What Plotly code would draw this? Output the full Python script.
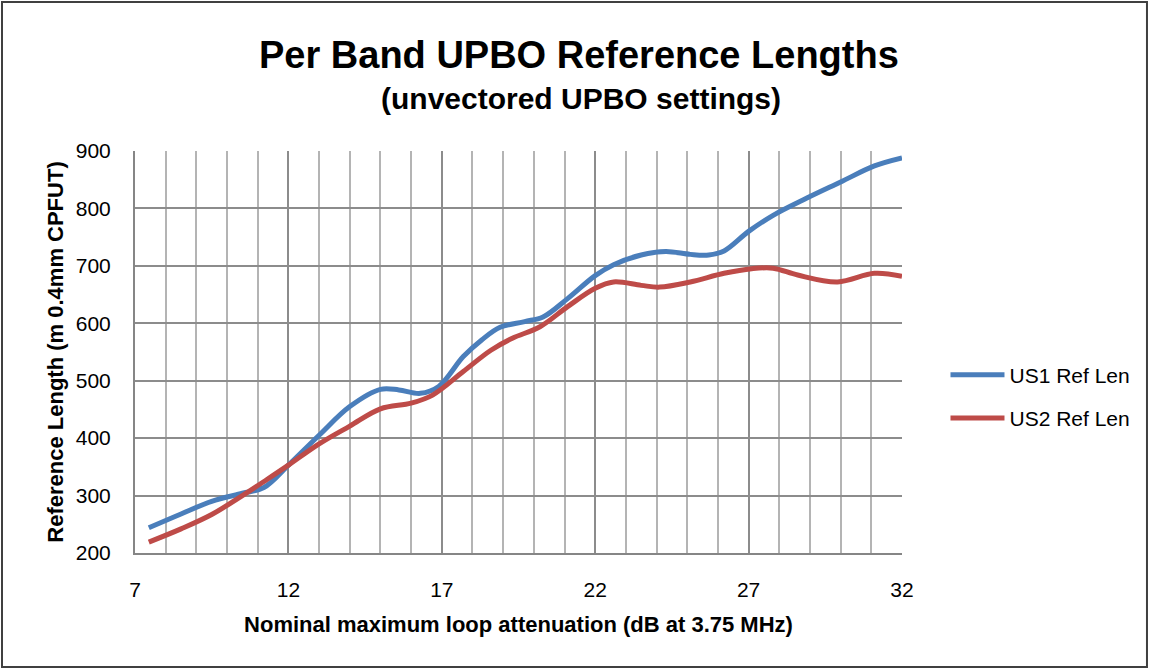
import plotly.graph_objects as go

# Data
us1_x = [7.45, 8.5, 9.5, 10.5, 11.2, 12, 13, 14, 15, 15.6, 16.3, 16.9, 17.7, 18.3, 18.9,
         19.7, 20.3, 21.1, 22, 22.6, 23.5, 24.3, 25.1, 25.7, 26.2, 27, 27.8, 28.9, 30, 31.1, 32]
us1_y = [244, 268, 290, 304, 314, 353, 405, 455, 485, 484, 478, 490, 542, 571, 593,
         603, 611, 643, 683, 702, 719, 725, 720, 719, 726, 760, 788, 818, 846, 874, 888]

us2_x = [7.45, 8.5, 9.5, 10.5, 11.3, 12, 13, 14, 15, 16, 16.7, 17.7, 18.6, 19.3, 20.2,
         21.1, 22, 22.6, 23.5, 24.1, 25.1, 26.2, 27.1, 27.8, 28.6, 29.9, 31.1, 32]
us2_y = [219, 242, 267, 300, 328, 353, 390, 421, 451, 461, 475, 516, 553, 574, 594,
         629, 661, 672, 666, 663, 672, 687, 695, 696, 684, 672, 687, 682]

series_names = ["US1 Ref Len", "US2 Ref Len"]
series_colors = ["#4A7EBB", "#BE4B48"]

x_ticks = [7, 12, 17, 22, 27, 32]
y_ticks = [200, 300, 400, 500, 600, 700, 800, 900]

FONT = "Liberation Sans, Arial, sans-serif"

fig = go.Figure()
for i, (xs, ys, name, col) in enumerate([(us1_x, us1_y, series_names[0], series_colors[0]),
                                         (us2_x, us2_y, series_names[1], series_colors[1])]):
    fig.add_trace(go.Scatter(x=xs, y=ys, mode="lines", name=name, legendgroup=f"g{i}",
                             line=dict(color=col, width=5, shape="spline", smoothing=1.0)))

fig.update_layout(
    width=1150, height=670,
    paper_bgcolor="white", plot_bgcolor="white",
    margin=dict(l=135, r=248, t=151, b=117),
    font=dict(family=FONT, color="black", size=21),
    showlegend=True,
    legend=dict(x=1.0567, y=0.389, xanchor="left", yanchor="middle",
                font=dict(size=21, family=FONT), itemwidth=54,
                tracegroupgap=13, bgcolor="rgba(0,0,0,0)"),
    annotations=[
        dict(text="<b>Per Band UPBO Reference Lengths</b>", x=0.579, y=1.0, xref="paper",
             yref="paper", xanchor="center", yanchor="bottom", yshift=73, showarrow=False,
             font=dict(size=38, family=FONT)),
        dict(text="<b>(unvectored UPBO settings)</b>", x=0.582, y=1.0, xref="paper",
             yref="paper", xanchor="center", yanchor="bottom", yshift=34, showarrow=False,
             font=dict(size=30, family=FONT)),
    ],
    shapes=[dict(type="rect", xref="paper", yref="paper",
                 x0=-0.1734, x1=1.3194, y0=-0.2836, y1=1.3706,
                 line=dict(color="#404040", width=2), fillcolor="rgba(0,0,0,0)", layer="below")],
)

fig.update_xaxes(
    range=[7, 32], tickmode="array", tickvals=x_ticks, ticktext=[str(v) for v in x_ticks],
    showgrid=True, gridcolor="#8C8C8C", gridwidth=1.5,
    minor=dict(dtick=1, tick0=7, showgrid=True, gridcolor="#B4B4B4", gridwidth=1.5),
    showline=True, linecolor="#868686", linewidth=2, mirror=False,
    ticks="", ticklabelstandoff=17, tickfont=dict(size=21),
    zeroline=False,
    title=dict(text="<b>Nominal maximum loop attenuation (dB at 3.75 MHz)</b>",
               font=dict(size=22), standoff=16),
)
fig.update_yaxes(
    range=[200, 900], tickmode="array", tickvals=y_ticks, ticktext=[str(v) for v in y_ticks],
    showgrid=True, gridcolor="#8C8C8C", gridwidth=1.5,
    showline=True, linecolor="#868686", linewidth=2,
    ticks="", ticklabelstandoff=18, tickfont=dict(size=21),
    zeroline=False,
    title=dict(text="<b>Reference Length (m 0.4mm CPFUT)</b>", font=dict(size=22), standoff=6),
)

fig.write_html("out.html", config={"displayModeBar": False},
               post_script="document.body.style.margin='0';document.body.style.overflow='hidden';")
